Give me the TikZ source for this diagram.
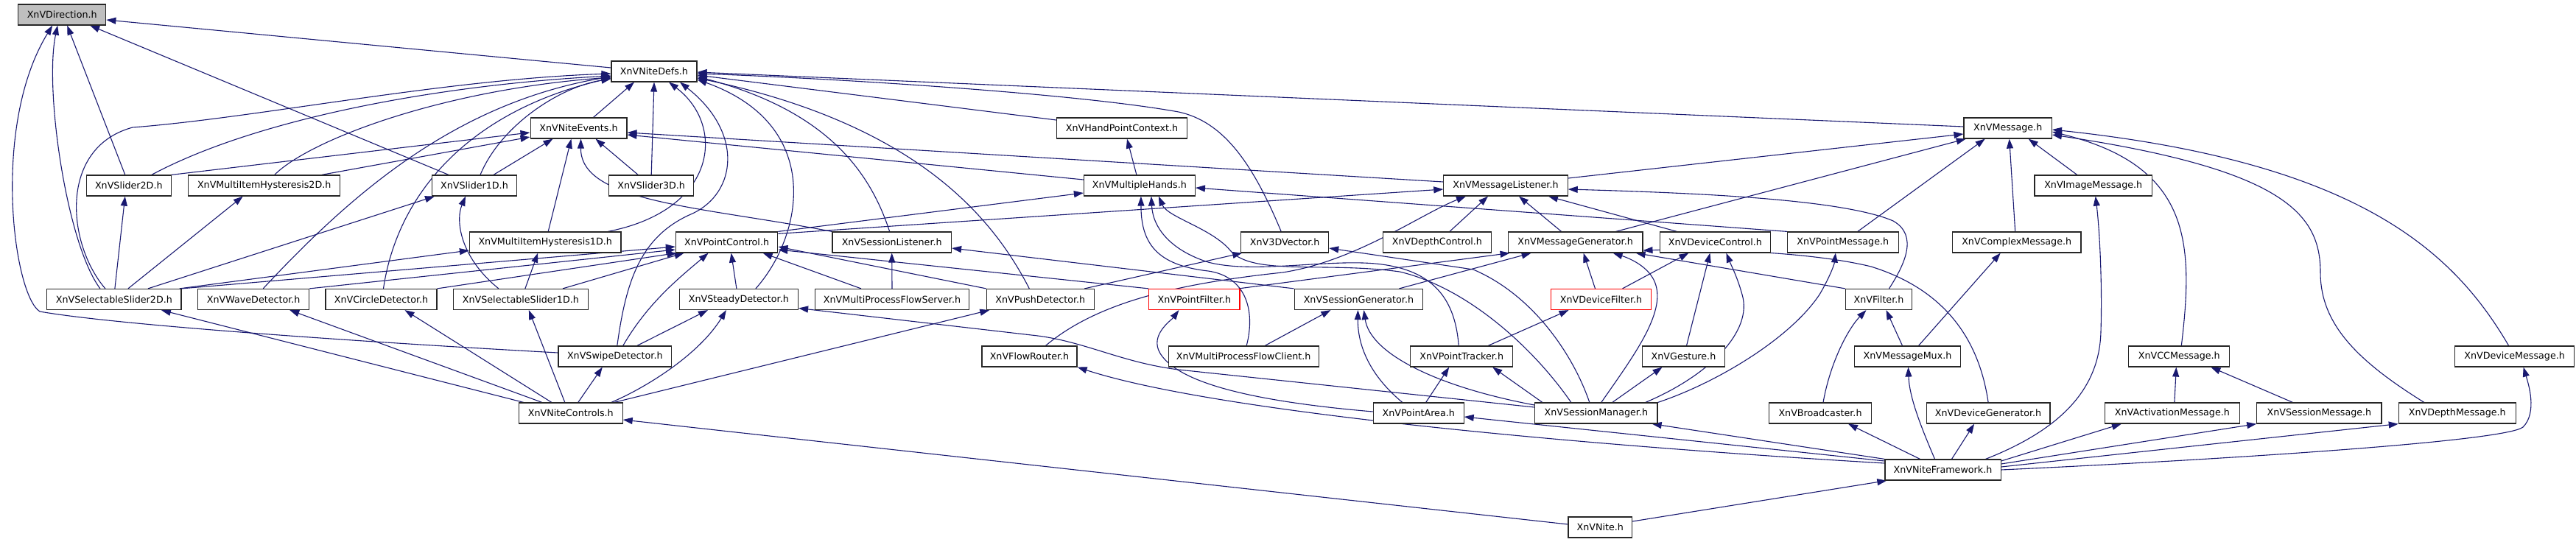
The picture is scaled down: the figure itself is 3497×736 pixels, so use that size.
\documentclass[tikz,border=0pt]{standalone}
\usepackage{fontspec}
\setmainfont{DejaVu Sans}
\usetikzlibrary{arrows.meta}
\definecolor{edgec}{HTML}{191970}
\definecolor{dirfill}{HTML}{BFBFBF}
\pgfdeclarelayer{edges}
\pgfsetlayers{edges,main}
\begin{document}
\begin{tikzpicture}[x=1pt,y=-1pt,
  box/.style={draw=black!85, fill=white, line width=1.2pt, minimum height=28pt, inner sep=0pt, font=\fontsize{12.7}{14}\selectfont},
  nb/.style={box, minimum width=#1pt},
  dep/.style={draw=edgec, line width=1.1pt, -{Triangle[length=13pt,width=9pt]}}]
\useasboundingbox (0,0) rectangle (3497,736);
% row 0-2
\node[nb=119.2, fill=dirfill] (dir) at (84.2,20) {XnVDirection.h};
\node[nb=116] (defs) at (888,97) {XnVNiteDefs.h};
\node[nb=130.8] (events) at (785.5,174) {XnVNiteEvents.h};
\node[nb=177.2] (hpc) at (1523,174) {XnVHandPointContext.h};
\node[nb=119.3] (msg) at (2725.7,174) {XnVMessage.h};
% row 3
\node[nb=114.7] (sl2d) at (174.8,252) {XnVSlider2D.h};
\node[nb=205.8] (mih2d) at (358.7,252) {XnVMultiItemHysteresis2D.h};
\node[nb=114.7] (sl1d) at (644,252) {XnVSlider1D.h};
\node[nb=114.7] (sl3d) at (884.2,252) {XnVSlider3D.h};
\node[nb=150.9] (mhands) at (1546.9,252) {XnVMultipleHands.h};
\node[nb=168.3] (mlist) at (2044,252) {XnVMessageListener.h};
\node[nb=159.4] (imgmsg) at (2841.7,252) {XnVImageMessage.h};
% row 4
\node[nb=205.4] (mih1d) at (740.2,329) {XnVMultiItemHysteresis1D.h};
\node[nb=138.4] (pctl) at (986.6,329) {XnVPointControl.h};
\node[nb=161.6] (slist) at (1210.7,329) {XnVSessionListener.h};
\node[nb=118.8] (v3d) at (1744.2,329) {XnV3DVector.h};
\node[nb=146.4] (depthctl) at (1950.9,329) {XnVDepthControl.h};
\node[nb=182.6] (mgen) at (2138.6,329) {XnVMessageGenerator.h};
\node[nb=150.5] (devctl) at (2328.4,329) {XnVDeviceControl.h};
\node[nb=150.9] (ptmsg) at (2501.8,329) {XnVPointMessage.h};
\node[nb=174.6] (cplx) at (2737.7,329) {XnVComplexMessage.h};
% row 5
\node[nb=182.2] (ssl2d) at (154.9,406.5) {XnVSelectableSlider2D.h};
\node[nb=150.8] (wave) at (344.2,406.5) {XnVWaveDetector.h};
\node[nb=150.9] (circle) at (517.5,406.5) {XnVCircleDetector.h};
\node[nb=182.6] (ssl1d) at (706.9,406.5) {XnVSelectableSlider1D.h};
\node[nb=161.2] (steady) at (1002.9,406.5) {XnVSteadyDetector.h};
\node[nb=209.3] (fserver) at (1211,406.5) {XnVMultiProcessFlowServer.h};
\node[nb=146] (push) at (1412.3,406.5) {XnVPushDetector.h};
\node[nb=123.2, draw=red] (pfilter) at (1621.4,406.5) {XnVPointFilter.h};
\node[nb=174.6] (sgen) at (1844.4,406.5) {XnVSessionGenerator.h};
\node[nb=135.3, draw=red] (dfilter) at (2173.5,406.5) {XnVDeviceFilter.h};
\node[nb=90.1] (filter) at (2550.5,406.5) {XnVFilter.h};
% row 6
\node[nb=153.6] (swipe) at (834.8,484) {XnVSwipeDetector.h};
\node[nb=129] (frouter) at (1397.5,484) {XnVFlowRouter.h};
\node[nb=204] (fclient) at (1688.2,484) {XnVMultiProcessFlowClient.h};
\node[nb=138.9] (ptrack) at (1984.2,484) {XnVPointTracker.h};
\node[nb=112] (gesture) at (2285.5,484) {XnVGesture.h};
\node[nb=144.2] (mux) at (2589.5,484) {XnVMessageMux.h};
\node[nb=137.1] (ccmsg) at (2958.3,484) {XnVCCMessage.h};
\node[nb=162] (devmsg) at (3413.6,484) {XnVDeviceMessage.h};
% row 7
\node[nb=140.6] (controls) at (774.8,561) {XnVNiteControls.h};
\node[nb=122.8] (parea) at (1925.7,561) {XnVPointArea.h};
\node[nb=166.5] (smgr) at (2166.8,561) {XnVSessionManager.h};
\node[nb=138.4] (bcast) at (2471,561) {XnVBroadcaster.h};
\node[nb=167.8] (devgen) at (2699.1,561) {XnVDeviceGenerator.h};
\node[nb=182.6] (actmsg) at (2948.9,561) {XnVActivationMessage.h};
\node[nb=169.2] (sesmsg) at (3148.4,561) {XnVSessionMessage.h};
\node[nb=158.9] (depmsg) at (3335.8,561) {XnVDepthMessage.h};
% row 8-9
\node[nb=157.2] (fw) at (2637.5,638) {XnVNiteFramework.h};
\node[nb=86.6] (nite) at (2172.3,716) {XnVNite.h};

\begin{pgfonlayer}{edges}
% into Direction
\draw[dep] ([yshift=5pt]defs.west) -- ([yshift=-7pt]dir.east);
\draw[dep] ([xshift=-5pt]sl2d.north) -- ([xshift=7pt]dir.south);
\draw[dep] ([xshift=-35pt]sl1d.north) -- ([xshift=38pt]dir.south);
\draw[dep] ([xshift=-19pt]ssl2d.north) .. controls (90,330) and (60,120) .. ([xshift=-6pt]dir.south);
\draw[dep] ([yshift=5pt]swipe.west) .. controls (450,462) and (150,440) .. (54,423) .. controls (18,400) and (-12,170) .. ([xshift=-13pt]dir.south);
% into NiteDefs
\draw[dep] ([xshift=20pt]events.north) -- ([xshift=-27pt]defs.south);
\draw[dep] (sl3d.north) -- (defs.south);
\draw[dep] ([xshift=31pt]sl2d.north) .. controls (350,160) and (600,115) .. ([yshift=-6pt]defs.west);
\draw[dep] ([xshift=14pt]mih2d.north) .. controls (420,190) and (600,122) .. ([yshift=-8pt]defs.west);
\draw[dep] ([xshift=-12pt]ssl2d.north) .. controls (90,330) and (80,200) .. (180,173) .. controls (350,160) and (600,108) .. ([yshift=-3pt]defs.west);
\draw[dep] ([xshift=8pt]sl1d.north) .. controls (680,170) and (760,118) .. ([yshift=-10pt]defs.west);
\draw[dep] ([xshift=13pt]wave.north) .. controls (480,260) and (620,140) .. ([yshift=-7pt]defs.west);
\draw[dep] ([xshift=3pt]circle.north) .. controls (540,260) and (640,150) .. ([yshift=-9pt]defs.west);
\draw[dep] ([xshift=85pt]mih1d.north) .. controls (975,285) and (985,170) .. ([xshift=20pt]defs.south);
\draw[dep] ([xshift=3pt]swipe.north) .. controls (850,380) and (870,320) .. (940,290) .. controls (1000,262) and (1010,180) .. ([xshift=35pt]defs.south);
\draw[dep] ([xshift=23pt]steady.north) .. controls (1090,320) and (1120,170) .. ([yshift=-11pt]defs.east);
\draw[dep] ([xshift=-15pt]push.north) .. controls (1350,300) and (1250,170) .. ([yshift=-9pt]defs.east);
\draw[dep] ([xshift=-3pt]slist.north) .. controls (1180,230) and (1120,150) .. ([yshift=-7pt]defs.east);
\draw[dep] ([yshift=11pt]hpc.west) -- ([yshift=-5pt]defs.east);
\draw[dep] ([xshift=-5pt]v3d.north) .. controls (1700,220) and (1660,165) .. (1600,152) .. controls (1450,125) and (1100,105) .. ([yshift=-3pt]defs.east);
\draw[dep] ([yshift=2pt]msg.west) -- ([yshift=-1pt]defs.east);
% into NiteEvents
\draw[dep] (sl2d.north east) -- ([yshift=-6pt]events.west);
\draw[dep] ([xshift=78pt]mih2d.north) -- ([yshift=-12pt]events.west);
\draw[dep] ([xshift=26pt]sl1d.north) -- ([xshift=-35pt]events.south);
\draw[dep] ([xshift=-18pt]sl3d.north) -- ([xshift=23pt]events.south);
\draw[dep] ([xshift=4pt]mih1d.north) -- ([xshift=-10pt]events.south);
\draw[dep] (slist.north west) .. controls (950,280) and (788,275) .. ([xshift=3pt]events.south);
\draw[dep] ([yshift=5pt]mlist.west) -- ([yshift=-6pt]events.east);
\draw[dep] ([yshift=8pt]mhands.west) -- ([yshift=-9pt]events.east);
% MultipleHands / HandPointContext
\draw[dep] ([xshift=-4pt]mhands.north) -- ([xshift=7pt]hpc.south);
\draw[dep] (pctl.north east) -- ([yshift=-10pt]mhands.west);
\draw[dep] (ptmsg.north west) -- ([yshift=-3pt]mhands.east);
\draw[dep] ([xshift=4pt]fclient.north) .. controls (1705,420) and (1690,375) .. (1640,368) .. controls (1570,360) and (1549,330) .. ([xshift=2pt]mhands.south);
\draw[dep] ([xshift=-4pt]ptrack.north) .. controls (1975,400) and (1940,365) .. (1867,358) .. controls (1800,352) and (1700,372) .. (1640,356) .. controls (1590,340) and (1565,310) .. ([xshift=16pt]mhands.south);
\draw[dep] ([xshift=-34pt]smgr.north) .. controls (2080,470) and (1990,390) .. (1900,369) .. controls (1800,355) and (1700,375) .. (1670,340) .. controls (1645,310) and (1585,295) .. ([xshift=26pt]mhands.south);
% Message / MessageListener
\draw[dep] ([yshift=10pt]mlist.east) -- ([yshift=-8pt]msg.west);
\draw[dep] ([yshift=-3pt]pctl.north east) -- ([yshift=-5pt]mlist.west);
\draw[dep] ([xshift=22pt]frouter.north) .. controls (1490,410) and (1600,385) .. (1741,370) .. controls (1840,355) and (1930,290) .. ([xshift=-54pt]mlist.south);
\draw[dep] ([xshift=17pt]depthctl.north) -- ([xshift=-24pt]mlist.south);
\draw[dep] ([xshift=-19pt]mgen.north) -- ([xshift=18pt]mlist.south);
\draw[dep] ([xshift=-52pt]devctl.north) -- ([xshift=58pt]mlist.south);
\draw[dep] ([xshift=14pt]filter.north) .. controls (2585,360) and (2605,320) .. (2570,300) .. controls (2500,270) and (2300,262) .. ([yshift=-5pt]mlist.east);
\draw[dep] ([xshift=55pt]mgen.north) -- ([xshift=-57pt]msg.south);
\draw[dep] ([xshift=20pt]ptmsg.north) -- ([xshift=-31pt]msg.south);
\draw[dep] ([xshift=-2pt]cplx.north) -- ([xshift=2pt]msg.south);
\draw[dep] ([xshift=-22pt]imgmsg.north) -- ([xshift=28pt]msg.south);
\draw[dep] ([xshift=3pt]ccmsg.north) .. controls (2978,330) and (2975,225) .. ([yshift=-5pt]msg.east);
\draw[dep] ([xshift=-45pt]depmsg.north) .. controls (3200,490) and (3150,440) .. (3150,370) .. controls (3150,290) and (3100,230) .. ([yshift=-9pt]msg.east);
\draw[dep] ([xshift=-8pt]devmsg.north) .. controls (3330,340) and (3200,220) .. ([yshift=-2pt]msg.east);
% SelectableSlider2D etc.
\draw[dep] ([xshift=1pt]ssl2d.north) -- ([xshift=-5pt]sl2d.south);
\draw[dep] ([xshift=19pt]ssl2d.north) -- ([xshift=-29pt]mih2d.south);
\draw[dep] ([xshift=46pt]ssl2d.north) -- ([xshift=-54pt]sl1d.south);
\draw[dep] ([xshift=-3pt]ssl2d.north east) -- ([yshift=-11pt]mih1d.west);
\draw[dep] (ssl2d.north east) -- ([yshift=-6pt]pctl.west);
\draw[dep] (wave.north east) -- ([yshift=-10pt]pctl.west);
\draw[dep] (circle.north east) -- ([xshift=-68pt]pctl.south);
\draw[dep] ([xshift=57pt]ssl1d.north) -- ([xshift=-58pt]pctl.south);
\draw[dep] ([xshift=-30pt]ssl1d.north) .. controls (625,350) and (618,300) .. ([xshift=-12pt]sl1d.south);
\draw[dep] ([xshift=6pt]ssl1d.north) -- ([xshift=-10pt]mih1d.south);
\draw[dep] ([xshift=11pt]swipe.north) .. controls (880,410) and (925,375) .. ([xshift=-25pt]pctl.south);
\draw[dep] ([xshift=30pt]swipe.north) -- ([xshift=-42pt]steady.south);
\draw[dep] ([xshift=-3pt]steady.north) -- ([xshift=6pt]pctl.south);
\draw[dep] ([xshift=-42pt]fserver.north) -- ([xshift=49pt]pctl.south);
\draw[dep] (fserver.north) -- (slist.south);
\draw[dep] (push.north west) -- ([yshift=-6pt]pctl.east);
\draw[dep] ([xshift=60pt]push.north) -- ([xshift=-58pt]v3d.south);
\draw[dep] (pfilter.north west) -- ([yshift=-10pt]pctl.east);
\draw[dep] ([xshift=-2pt]pfilter.north east) -- ([xshift=-89pt]mgen.south);
\draw[dep] (sgen.north west) -- ([yshift=-8pt]slist.east);
\draw[dep] ([xshift=55pt]sgen.north) -- ([xshift=-60pt]mgen.south);
\draw[dep] ([xshift=-8pt]dfilter.north) -- ([xshift=11pt]mgen.south);
\draw[dep] ([xshift=29pt]dfilter.north) -- ([xshift=-36pt]devctl.south);
\draw[dep] ([xshift=7pt]smgr.north) .. controls (2220,480) and (2265,420) .. (2245,380) .. controls (2235,360) and (2210,350) .. ([xshift=51pt]mgen.south);
\draw[dep] (filter.north west) -- ([xshift=82pt]mgen.south);
\draw[dep] (devgen.north) .. controls (2685,450) and (2630,390) .. (2540,362) .. controls (2450,340) and (2300,338) .. ([yshift=-11pt]mgen.east);
\draw[dep] ([xshift=4pt]gesture.north) -- ([xshift=-7pt]devctl.south);
\draw[dep] ([xshift=67pt]smgr.north) .. controls (2320,510) and (2380,450) .. (2365,400) .. controls (2358,375) and (2350,360) .. ([xshift=15pt]devctl.south);
\draw[dep] (smgr.north east) .. controls (2330,520) and (2430,460) .. (2470,400) .. controls (2482,380) and (2490,360) .. ([xshift=-10pt]ptmsg.south);
\draw[dep] ([xshift=-9pt]smgr.north) .. controls (2135,480) and (2080,400) .. (2000,366) -- ([yshift=-8pt]v3d.east);
\draw[dep] ([yshift=8pt]smgr.west) -- (1600,502) .. controls (1520,492) and (1470,462) .. (1400,455) -- ([yshift=-12pt]steady.east);
\draw[dep] ([yshift=11pt]smgr.west) .. controls (1950,525) and (1860,480) .. ([xshift=7pt]sgen.south);
\draw[dep] ([xshift=-73pt]smgr.north) -- ([xshift=42pt]ptrack.south);
\draw[dep] ([xshift=22pt]smgr.north) -- ([xshift=-29pt]gesture.south);
\draw[dep] ([xshift=29pt]fclient.north) -- ([xshift=-38pt]sgen.south);
\draw[dep] ([yshift=2pt]parea.west) .. controls (1700,545) and (1600,520) .. (1575,480) .. controls (1560,455) and (1590,435) .. ([xshift=-21pt]pfilter.south);
\draw[dep] ([xshift=-22pt]parea.north) .. controls (1860,510) and (1843,470) .. ([xshift=-1pt]sgen.south);
\draw[dep] ([xshift=10pt]parea.north) -- ([xshift=-17pt]ptrack.south);
\draw[dep] ([xshift=36pt]ptrack.north) -- ([xshift=-44pt]dfilter.south);
\draw[dep] ([xshift=4pt]bcast.north) .. controls (2485,490) and (2510,445) .. ([xshift=-17pt]filter.south);
\draw[dep] ([xshift=-7pt]mux.north) -- ([xshift=10pt]filter.south);
\draw[dep] ([xshift=15pt]mux.north) -- ([xshift=-22pt]cplx.south);
\draw[dep] ([xshift=3pt]actmsg.north) -- ([xshift=-4pt]ccmsg.south);
\draw[dep] ([xshift=-36pt]sesmsg.north) -- ([xshift=43pt]ccmsg.south);
% NiteControls
\draw[dep] ([xshift=-64pt]controls.north) -- ([xshift=64pt]ssl2d.south);
\draw[dep] ([xshift=-39pt]controls.north) -- ([xshift=49pt]wave.south);
\draw[dep] ([xshift=-26pt]controls.north) -- ([xshift=32pt]circle.south);
\draw[dep] ([xshift=-8pt]controls.north) -- ([xshift=11pt]ssl1d.south);
\draw[dep] ([xshift=10pt]controls.north) -- ([xshift=-17pt]swipe.south);
\draw[dep] ([xshift=55pt]controls.north) .. controls (880,525) and (950,480) .. ([xshift=-17pt]steady.south);
\draw[dep] ([xshift=59pt]controls.north) -- ([xshift=-69pt]push.south);
% NiteFramework
\draw[dep] ([yshift=9pt]fw.west) .. controls (2150,605) and (1650,560) .. (frouter.south east);
\draw[dep] ([yshift=12pt]fw.west) -- ([yshift=-5pt]parea.east);
\draw[dep] (fw.north west) -- ([xshift=-8pt]smgr.south east);
\draw[dep] ([xshift=-31pt]fw.north) -- ([xshift=38pt]bcast.south);
\draw[dep] ([xshift=-11pt]fw.north) .. controls (2608,580) and (2592,540) .. ([xshift=1pt]mux.south);
\draw[dep] ([xshift=12pt]fw.north) -- ([xshift=-19pt]devgen.south);
\draw[dep] ([xshift=58pt]fw.north) .. controls (2780,590) and (2850,540) .. (2852,450) .. controls (2854,380) and (2850,310) .. ([xshift=3pt]imgmsg.south);
\draw[dep] ([yshift=12pt]fw.east) -- ([xshift=-69pt]actmsg.south);
\draw[dep] ([yshift=8pt]fw.east) -- (sesmsg.south west);
\draw[dep] ([yshift=4pt]fw.east) -- (depmsg.south west);
\draw[dep] (fw.east) .. controls (3000,625) and (3400,600) .. (3425,580) .. controls (3445,560) and (3432,520) .. ([xshift=12pt]devmsg.south);
% Nite
\draw[dep] ([yshift=4pt]nite.west) -- ([yshift=-9pt]controls.east);
\draw[dep] ([yshift=8pt]nite.east) -- ([xshift=3pt]fw.south west);
\end{pgfonlayer}
\end{tikzpicture}
\end{document}
